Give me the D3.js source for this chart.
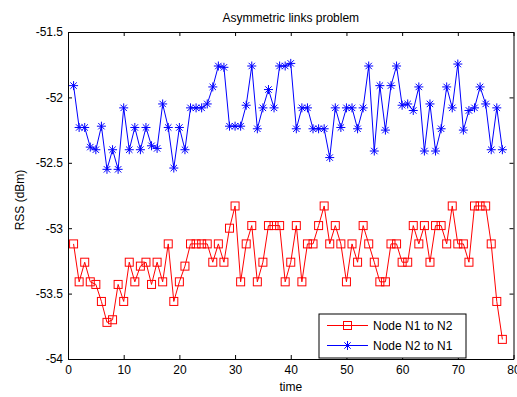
<!DOCTYPE html>
<html>
<head>
<meta charset="utf-8">
<script src="https://d3js.org/d3.v7.min.js"></script>
<style>
  body { margin: 0; background: #fff; }
  text { font-family: "Liberation Sans", Arial, sans-serif; }
  .axis text { font-size: 12px; fill: #000; }
  .axis line, .axis path { stroke: #000; }
</style>
</head>
<body>
<svg id="chart"></svg>
<script>
const WIDTH  = 517;
const HEIGHT = 397;
const MARGIN = { top: 32, right: 3.5, bottom: 38, left: 68 };

// time steps
const timeSteps = d3.range(1, 79);

// Node N1 to N2 (red squares)
const n1toN2 = [
  -53.12, -53.41, -53.26, -53.41, -53.43, -53.56, -53.72, -53.70, -53.43, -53.56,
  -53.26, -53.41, -53.29, -53.26, -53.43, -53.26, -53.41, -53.12, -53.56, -53.41,
  -53.29, -53.12, -53.12, -53.12, -53.12, -53.26, -53.12, -53.26, -53.00, -52.83,
  -53.41, -53.12, -52.98, -53.41, -53.26, -52.98, -52.98, -52.98, -53.41, -53.26,
  -52.98, -53.41, -53.12, -53.12, -52.98, -52.83, -53.12, -52.98, -53.12, -53.41,
  -53.12, -53.26, -52.98, -53.12, -53.26, -53.41, -53.41, -53.12, -53.12, -53.26,
  -53.26, -52.98, -53.12, -52.98, -53.26, -52.98, -52.98, -53.12, -52.83, -53.12,
  -53.12, -53.26, -52.83, -52.83, -52.83, -53.12, -53.56, -53.85
];

// Node N2 to N1 (blue asterisks)
const n2toN1 = [
  -51.91, -52.23, -52.23, -52.38, -52.40, -52.22, -52.55, -52.40, -52.55, -52.08,
  -52.40, -52.23, -52.40, -52.23, -52.37, -52.39, -52.05, -52.23, -52.54, -52.23,
  -52.40, -52.08, -52.08, -52.08, -52.05, -51.92, -51.76, -51.77, -52.22, -52.22,
  -52.22, -52.06, -51.76, -52.24, -52.08, -51.94, -52.08, -51.76, -51.76, -51.74,
  -52.24, -52.08, -52.08, -52.24, -52.24, -52.24, -52.46, -52.08, -52.23, -52.08,
  -52.08, -52.24, -52.08, -51.76, -52.41, -51.91, -52.25, -51.91, -51.76, -52.06,
  -52.05, -52.10, -51.92, -52.41, -52.05, -52.41, -52.24, -51.92, -52.08, -51.745,
  -52.25, -52.10, -52.08, -51.92, -52.05, -52.40, -52.08, -52.40
];

const xTicks = [0, 10, 20, 30, 40, 50, 60, 70, 80];
const yTicks = [-54, -53.5, -53, -52.5, -52, -51.5];
const seriesNames = ['Node N1 to N2', 'Node N2 to N1'];
const seriesColors = ['#ff0000', '#0000ff'];

const svg = d3.select('#chart')
  .attr('width', WIDTH)
  .attr('height', HEIGHT);

svg.append('rect')
  .attr('width', WIDTH).attr('height', HEIGHT)
  .attr('fill', '#fff');

const x = d3.scaleLinear()
  .domain([0, 80])
  .range([MARGIN.left, WIDTH - MARGIN.right]);

const y = d3.scaleLinear()
  .domain([-54, -51.5])
  .range([HEIGHT - MARGIN.bottom, MARGIN.top]);

const fmt = d => String(d);

// axes (MATLAB style: ticks inside, box all round)
svg.append('g')
  .attr('class', 'axis')
  .attr('transform', 'translate(0,' + y.range()[0] + ')')
  .call(d3.axisBottom(x).tickValues(xTicks).tickFormat(fmt).tickSizeInner(-4).tickSizeOuter(0).tickPadding(6));

svg.append('g')
  .attr('class', 'axis')
  .attr('transform', 'translate(0,' + y.range()[1] + ')')
  .call(d3.axisTop(x).tickValues(xTicks).tickFormat('').tickSizeInner(-4).tickSizeOuter(0));

svg.append('g')
  .attr('class', 'axis')
  .attr('transform', 'translate(' + x.range()[0] + ',0)')
  .call(d3.axisLeft(y).tickValues(yTicks).tickFormat(fmt).tickSizeInner(-4).tickSizeOuter(0).tickPadding(5));

svg.append('g')
  .attr('class', 'axis')
  .attr('transform', 'translate(' + x.range()[1] + ',0)')
  .call(d3.axisRight(y).tickValues(yTicks).tickFormat('').tickSizeInner(-4).tickSizeOuter(0));

// series
const line = d3.line()
  .x((d, i) => x(timeSteps[i]))
  .y(d => y(d));

const starPath = 'M-4.5,0H4.5M0,-4.5V4.5M-3.2,-3.2L3.2,3.2M-3.2,3.2L3.2,-3.2';

function drawSeries(values, color, marker) {
  svg.append('path')
    .datum(values)
    .attr('d', line)
    .attr('fill', 'none')
    .attr('stroke', color)
    .attr('stroke-width', 1);

  const g = svg.append('g');
  if (marker === 'square') {
    g.selectAll('rect')
      .data(values)
      .join('rect')
        .attr('x', (d, i) => x(timeSteps[i]) - 4)
        .attr('y', d => y(d) - 4)
        .attr('width', 8)
        .attr('height', 8)
        .attr('fill', 'none')
        .attr('stroke', color);
  } else {
    g.selectAll('path')
      .data(values)
      .join('path')
        .attr('transform', (d, i) => 'translate(' + x(timeSteps[i]) + ',' + y(d) + ')')
        .attr('d', starPath)
        .attr('stroke', color)
        .attr('fill', 'none');
  }
}

drawSeries(n2toN1, seriesColors[1], 'star');
drawSeries(n1toN2, seriesColors[0], 'square');

// title and labels
svg.append('text')
  .attr('x', (x.range()[0] + x.range()[1]) / 2)
  .attr('y', 22)
  .attr('text-anchor', 'middle')
  .attr('font-size', 12)
  .text('Asymmetric links problem');

svg.append('text')
  .attr('x', (x.range()[0] + x.range()[1]) / 2)
  .attr('y', 391)
  .attr('text-anchor', 'middle')
  .attr('font-size', 12)
  .text('time');

svg.append('text')
  .attr('transform', 'translate(24,' + 200 + ') rotate(-90)')
  .attr('text-anchor', 'middle')
  .attr('font-size', 12)
  .text('RSS (dBm)');

// legend
const legend = svg.append('g').attr('transform', 'translate(319,314)');
legend.append('rect')
  .attr('width', 147).attr('height', 44)
  .attr('fill', '#fff').attr('stroke', '#000');

seriesNames.forEach((name, i) => {
  const row = legend.append('g').attr('transform', 'translate(0,' + (11.5 + i * 20) + ')');
  row.append('line')
    .attr('x1', 8).attr('x2', 49)
    .attr('stroke', seriesColors[i]);
  if (i === 0) {
    row.append('rect')
      .attr('x', 24.5).attr('y', -4).attr('width', 8).attr('height', 8)
      .attr('fill', 'none').attr('stroke', seriesColors[i]);
  } else {
    row.append('path')
      .attr('transform', 'translate(28.5,0)')
      .attr('d', starPath)
      .attr('stroke', seriesColors[i]);
  }
  row.append('text')
    .attr('x', 54)
    .attr('y', 4.5)
    .attr('font-size', 12)
    .text(name);
});
</script>
</body>
</html>
